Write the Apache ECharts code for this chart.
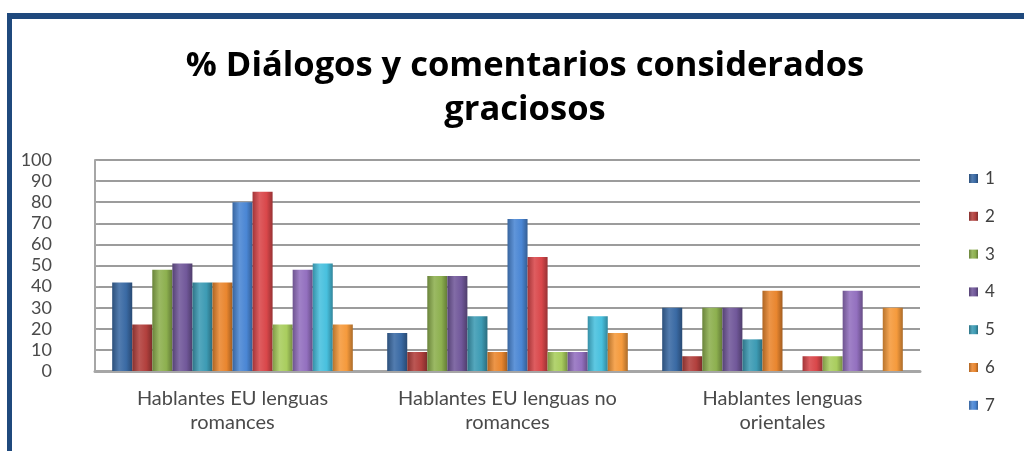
<!DOCTYPE html>
<html>
<head>
<meta charset="utf-8">
<script src="https://cdn.jsdelivr.net/npm/echarts@6/dist/echarts.min.js"></script>
<style>
html,body{margin:0;padding:0;background:#fff;}
#main{width:1024px;height:451px;}
</style>
</head>
<body>
<div id="main"></div>
<script>
const titleText = '% Diálogos y comentarios considerados\ngraciosos';
const categories = ['Hablantes EU lenguas\nromances', 'Hablantes EU lenguas no\nromances', 'Hablantes lenguas\norientales'];
const seriesNames = ['1','2','3','4','5','6','7','8','9','10','11','12'];
const legendShown = ['1','2','3','4','5','6','7'];
const s1  = [42, 18, 30];
const s2  = [22, 9, 7];
const s3  = [48, 45, 30];
const s4  = [51, 45, 30];
const s5  = [42, 26, 15];
const s6  = [42, 9, 38];
const s7  = [80, 72, 0];
const s8  = [85, 54, 7];
const s9  = [22, 9, 7];
const s10 = [48, 9, 38];
const s11 = [51, 26, 0];
const s12 = [22, 18, 30];
const seriesValues = [s1,s2,s3,s4,s5,s6,s7,s8,s9,s10,s11,s12];
const yTicks = [0,10,20,30,40,50,60,70,80,90,100];

const baseColors = ['#3a6aa4','#b2403d','#8db04f','#71589a','#3d9bb4','#e9862f',
                    '#4a86d4','#d9474a','#a9cd5e','#9370bf','#48c0de','#f59a3c'];

function shade(hex, f){
  const n=parseInt(hex.slice(1),16);
  let r=(n>>16)&255,g=(n>>8)&255,b=n&255;
  if(f<0){r=r*(1+f);g=g*(1+f);b=b*(1+f);}
  else{r=r+(255-r)*f;g=g+(255-g)*f;b=b+(255-b)*f;}
  return 'rgb('+Math.round(r)+','+Math.round(g)+','+Math.round(b)+')';
}
function grad(c){
  return new echarts.graphic.LinearGradient(0,0,1,0,[
    {offset:0,color:shade(c,-0.25)},
    {offset:0.35,color:shade(c,0.12)},
    {offset:0.7,color:c},
    {offset:1,color:shade(c,-0.3)}
  ]);
}

const chart = echarts.init(document.getElementById('main'));
chart.setOption({
  backgroundColor:'#ffffff',
  animation:false,
  color: baseColors,
  title:{
    text:titleText,
    left:520, top:39, textAlign:'center',
    textStyle:{fontFamily:'Open Sans',fontWeight:'bold',fontSize:34.5,color:'#000',lineHeight:44}
  },
  legend:{
    data:legendShown,
    orient:'vertical',
    left:964, top:164, height:285,
    itemWidth:9, itemHeight:9, itemGap:18.8,
    icon:'rect',
    textStyle:{fontFamily:'Lato',fontSize:17,color:'#404040',padding:[0,0,0,2],lineHeight:19}
  },
  grid:{left:95, right:104, top:160, bottom:80, containLabel:false},
  xAxis:{
    type:'category',
    data:categories,
    axisLine:{lineStyle:{color:'#a6a6a6',width:3}},
    axisTick:{show:false},
    axisLabel:{fontFamily:'Lato',fontSize:20,color:'#4a4a4a',lineHeight:24,margin:16,interval:0}
  },
  yAxis:{
    type:'value',
    min:yTicks[0], max:yTicks[yTicks.length-1], interval:10,
    axisLine:{show:true,lineStyle:{color:'#a6a6a6',width:2}},
    axisTick:{show:true,inside:true,length:4,lineStyle:{color:'#a6a6a6'}},
    axisLabel:{fontFamily:'Lato',fontSize:18,color:'#4a4a4a',margin:43},
    splitLine:{lineStyle:{color:'#9c9c9c',width:2}}
  },
  graphic:[
    {type:'rect',shape:{x:7,y:13,width:1017,height:6},style:{fill:'#1f497d'}},
    {type:'rect',shape:{x:7,y:13,width:5,height:438},style:{fill:'#1f497d'}}
  ],
  series: seriesNames.map((n,i)=>({
    name:n,
    type:'bar',
    data:seriesValues[i],
    barGap:'0%',
    barCategoryGap:'12.5%',
    itemStyle:{color:grad(baseColors[i])}
  }))
});
</script>
</body>
</html>
